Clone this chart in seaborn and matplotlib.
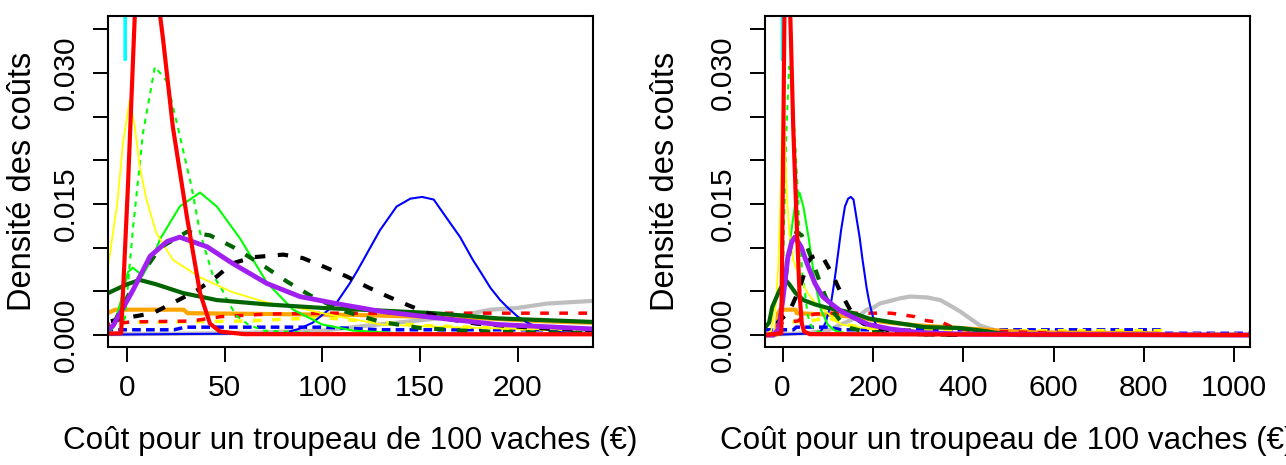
import matplotlib
matplotlib.use("Agg")
import matplotlib.pyplot as plt
import seaborn as sns

# densités : x = coût (€), y = densité
gris_x = [-40, 0, 50, 100, 124, 151, 170, 186, 200, 215, 238, 260, 283, 320, 349, 370, 393, 415, 437, 460, 482, 520, 560, 1040]
gris_y = [0.0001, 0.0001, 0.0002, 0.0005, 0.0011, 0.0017, 0.0022, 0.0029, 0.0031, 0.0036, 0.0039, 0.0042, 0.0044, 0.0043,
          0.0040, 0.0034, 0.0027, 0.0019, 0.0011, 0.0007, 0.0004, 0.0001, 0, 0]

bleu_tirets_x = [-40, 24, 30, 100, 130, 835, 845, 1040]
bleu_tirets_y = [0.0006, 0.0006, 0.0009, 0.0009, 0.0006, 0.0006, 0.0002, 0.0002]

jaune_tirets_x = [-40, -15, -10, 60, 100, 116, 150, 200, 300, 480, 840, 860, 1040]
jaune_tirets_y = [0, 0, 0.0014, 0.0016, 0.0020, 0.0017, 0.0011, 0.0007, 0.0005, 0.0005, 0.0005, 0.0001, 0.0001]

orange_x = [-40, -15, -10, -6, 29, 31, 73, 116, 150, 184, 210, 238, 300, 393, 482, 560, 830, 850, 1040]
orange_y = [0, 0, 0.0025, 0.0029, 0.0029, 0.0025, 0.0024, 0.0023, 0.0021, 0.0019, 0.0016, 0.0014, 0.0011, 0.0008,
            0.0005, 0.0003, 0.0002, 0, 0]

rouge_tirets_x = [-40, -15, -10, 2, 33, 48, 72, 100, 240, 293, 311, 355, 380, 420, 540, 610, 700, 1040]
rouge_tirets_y = [0, 0, 0.0012, 0.0015, 0.0016, 0.0021, 0.0024, 0.0025, 0.0025, 0.0021, 0.0017, 0.0014, 0.0008,
                  0.0005, 0.0003, 0.0002, 0, 0]

cyan_x = [-1.2, -0.9, -0.6]
cyan_y = [0.0315, 0.09, 0.0315]

bleu_x = [-40, 80, 88, 95, 100, 107, 114, 118, 123, 129.5, 138, 145, 151, 157, 162, 170.5, 177, 181, 186, 191, 195,
          200, 205, 211, 225, 260, 1040]
bleu_y = [0, 0.0002, 0.0007, 0.0014, 0.0023, 0.0036, 0.0059, 0.0074, 0.0094, 0.0120, 0.0147, 0.0156, 0.0158, 0.0155,
          0.0139, 0.0112, 0.0086, 0.0072, 0.0054, 0.0040, 0.0031, 0.0021, 0.0014, 0.0008, 0.0002, 0, 0]

vert_x = [-40, -12, -7, -3, 0.5, 3, 8, 13, 17, 27, 37.4, 46, 58, 71.6, 85, 100, 116, 140, 240, 300]
vert_y = [0, 0, 0.0008, 0.0040, 0.0072, 0.0077, 0.0068, 0.0088, 0.0110, 0.0147, 0.0163, 0.0147, 0.0110, 0.0060,
          0.0029, 0.0012, 0.0005, 0.0002, 0.0001, 0]

vert_tirets_x = [-40, -10, -4, -1, 3, 8.2, 14.3, 20.5, 26, 33, 37.4, 44, 48, 52, 56, 62, 70, 100, 240, 400]
vert_tirets_y = [0, 0, 0.0003, 0.0020, 0.0120, 0.0231, 0.0307, 0.0290, 0.0238, 0.0170, 0.0117, 0.0068, 0.0055,
                 0.0037, 0.0022, 0.0012, 0.0005, 0.0002, 0.0001, 0]

jaune_x = [-40, -25, -15, -9.7, -5, -2, 1.5, 4, 6.6, 10, 15, 23.5, 37.4, 54, 72, 88, 100, 116, 130, 165, 200, 240,
           300, 400, 600, 1040]
jaune_y = [0, 0.0005, 0.0035, 0.0078, 0.0150, 0.0220, 0.0270, 0.0238, 0.0192, 0.0155, 0.0117, 0.0086, 0.0066,
           0.0049, 0.0037, 0.0031, 0.0025, 0.0018, 0.0012, 0.0009, 0.0007, 0.0006, 0.0004, 0.0002, 0.0001, 0.0001]

vert_fonce_x = [-40, -30, -23, -9.7, 0, 6.6, 15, 28.7, 46, 71.6, 100, 130, 157, 190, 238, 315, 393, 440, 480, 520, 1040]
vert_fonce_y = [0.0008, 0.0014, 0.0032, 0.0048, 0.0058, 0.0063, 0.0058, 0.0048, 0.0040, 0.0035, 0.0031, 0.0028,
                0.0025, 0.0019, 0.0015, 0.0009, 0.0008, 0.0005, 0.0002, 0, 0]

vert_fonce_tirets_x = [-40, -15, -9.7, -6, 3, 17, 30.7, 42.5, 54, 68, 82, 94, 110, 130, 150, 180, 240, 300, 400]
vert_fonce_tirets_y = [0, 0, 0.0008, 0.0017, 0.0055, 0.0100, 0.0118, 0.0114, 0.0101, 0.0082, 0.0061, 0.0045,
                       0.0028, 0.0015, 0.0008, 0.0004, 0.0002, 0.0001, 0]

noir_tirets_x = [-40, -15, -10, 3, 13.3, 24.6, 35.8, 46, 54, 64.5, 80, 90, 102, 112.5, 123, 133.6, 144, 154, 165,
                 179, 210, 240, 300, 400]
noir_tirets_y = [0, 0, 0.0015, 0.0021, 0.0025, 0.0038, 0.0051, 0.0067, 0.0082, 0.0089, 0.0092, 0.0088, 0.0077,
                 0.0067, 0.0055, 0.0044, 0.0034, 0.0025, 0.0018, 0.0013, 0.0008, 0.0005, 0.0001, 0]

violet_x = [-40, -20, -9.7, -7, 3, 11.8, 20.5, 27, 41, 54, 71.6, 88.5, 107, 130, 157, 190, 238, 300, 400, 1040]
violet_y = [0, 0, 0.0006, 0.0011, 0.0051, 0.0090, 0.0107, 0.0112, 0.0101, 0.0082, 0.0059, 0.0044, 0.0036, 0.0027,
            0.0020, 0.0012, 0.0007, 0.0003, 0.0001, 0]

rouge_x = [-40, -3, 0.5, 4, 10, 17, 18.5, 23.5, 30.7, 37.4, 42.5, 47.6, 60, 1040]
rouge_y = [0, 0.0002, 0.0170, 0.0365, 0.0580, 0.0365, 0.0338, 0.0238, 0.0135, 0.0048, 0.0013, 0.0004, 0.0001, 0]

y_ticks = [0, 0.005, 0.010, 0.015, 0.020, 0.025, 0.030, 0.035]
y_labels = ["0.000", "", "", "0.015", "", "", "0.030", ""]
x_ticks_g = [0, 50, 100, 150, 200]
x_ticks_d = [0, 200, 400, 600, 800, 1000]

# (x, y, couleur, épaisseur, style) dans l'ordre de tracé
dashed = (0, (2.5, 3.0))
courbes = [
    (gris_x, gris_y, "#BEBEBE", 3.0, "-"),
    (bleu_tirets_x, bleu_tirets_y, "#0000FF", 2.5, (0, (2.5, 1.5))),
    (jaune_tirets_x, jaune_tirets_y, "#FFFF00", 2.5, dashed),
    (orange_x, orange_y, "#FFA500", 3.0, "-"),
    (rouge_tirets_x, rouge_tirets_y, "#FF0000", 2.5, dashed),
    (cyan_x, cyan_y, "#00FFFF", 1.8, "-"),
    (bleu_x, bleu_y, "#0000FF", 1.5, "-"),
    (vert_x, vert_y, "#00FF00", 1.5, "-"),
    (vert_tirets_x, vert_tirets_y, "#00FF00", 1.5, (0, (2.5, 2.5))),
    (jaune_x, jaune_y, "#FFFF00", 1.3, "-"),
    (vert_fonce_x, vert_fonce_y, "#006400", 3.0, "-"),
    (vert_fonce_tirets_x, vert_fonce_tirets_y, "#006400", 3.0, dashed),
    (noir_tirets_x, noir_tirets_y, "black", 3.0, dashed),
    (violet_x, violet_y, "#A020F0", 3.5, "-"),
    (rouge_x, rouge_y, "#FF0000", 3.0, "-"),
]

sns.set_style("ticks")
plt.rcParams['font.family'] = ['Liberation Sans', 'DejaVu Sans']
plt.rcParams['text.color'] = 'black'
plt.rcParams['axes.labelcolor'] = 'black'
plt.rcParams['xtick.color'] = 'black'
plt.rcParams['ytick.color'] = 'black'

fig = plt.figure(figsize=(12.86, 4.65), dpi=100)
W, H = 1286, 465
ax1 = fig.add_axes([108 / W, 1 - 347 / H, 485 / W, 331 / H])
ax2 = fig.add_axes([765 / W, 1 - 347 / H, 485 / W, 331 / H])

for ax, xlim, xticks, ylab_x in [(ax1, (-9.7, 238.5), x_ticks_g, -0.177),
                                 (ax2, (-39, 1035), x_ticks_d, -0.206)]:
    for cx, cy, col, lw, ls in courbes:
        sns.lineplot(x=cx, y=cy, ax=ax, color=col, linewidth=lw, linestyle=ls,
                     sort=False, estimator=None, legend=False)
    ax.set_xlim(*xlim)
    ax.set_ylim(-0.00137, 0.0365)
    ax.set_xticks(xticks)
    ax.set_xticklabels([str(t) for t in xticks])
    ax.set_yticks(y_ticks)
    ax.set_yticklabels(y_labels, rotation=90, va="center")
    ax.tick_params(axis="both", length=10.5, width=1.4, labelsize=21.5,
                   color="black", labelcolor="black")
    ax.tick_params(axis="x", pad=9)
    ax.tick_params(axis="y", pad=10)
    for sp in ax.spines.values():
        sp.set_visible(True)
        sp.set_linewidth(1.5)
        sp.set_color("black")
    ax.set_xlabel("Coût pour un troupeau de 100 vaches (€)", fontsize=22.6, color="black")
    ax.set_ylabel("Densité des coûts", fontsize=23.5, color="black")
    ax.xaxis.set_label_coords(0.5, -0.284)
    ax.xaxis.label.set_va("center")
    ax.yaxis.set_label_coords(ylab_x, 0.5)
    ax.yaxis.label.set_va("center")

fig.savefig("out.png", dpi=100)
